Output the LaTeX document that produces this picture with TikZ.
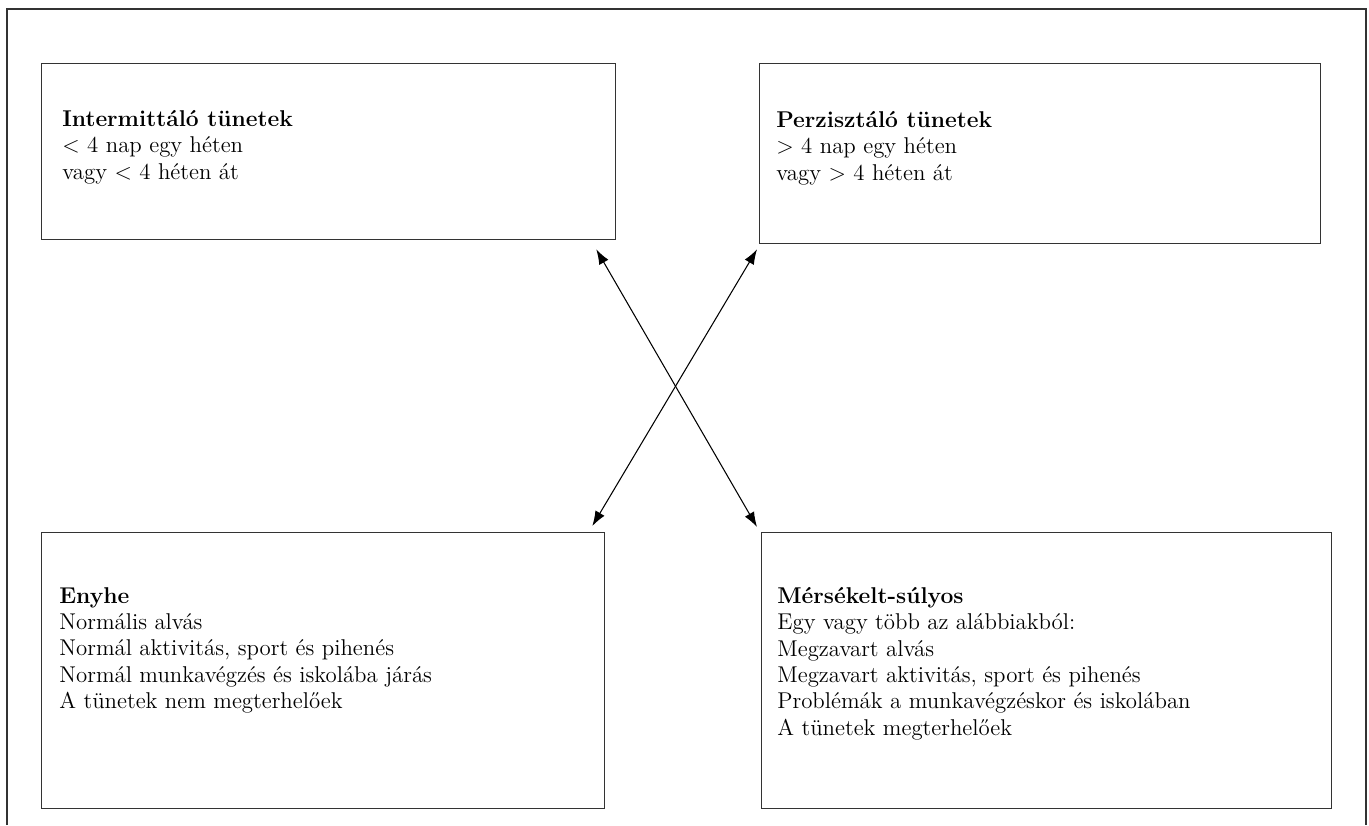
\documentclass[tikz,border=0pt]{standalone}
\usepackage{fontspec}
\usepackage{tikz}
\usetikzlibrary{arrows.meta, positioning}
\tikzset{
        kat box/.style={
		draw=black!80,
		line width=0.8pt,
		anchor=north west,
		inner sep=0pt,
	  },
  		kat text/.style={
    	anchor=north west,
		align=left,
		inner sep=0pt,
		font=\fontsize{13}{15}\selectfont,
		execute at begin node=\strut,
      },
		cross arrow/.style={
		{Latex[length=8.5pt,width=6pt]}-{Latex[length=8.5pt,width=6pt]},
		line width=0.6pt,
	  }
  	}

\begin{document}
\begin{tikzpicture}[x=0.02cm, y=-0.02cm]
    \useasboundingbox (0,0) rectangle (1369,825);
    % outer frame, open at the bottom
    \draw[black!80, line width=0.9pt] (7,825) -- (7,9) -- (1366,9) -- (1366,825);
    % the four boxes
    \node [kat box, minimum width=11.48cm, minimum height=3.52cm] (inter) at (41,63) {};
    \node [kat box, minimum width=11.22cm, minimum height=3.6cm] (perz) at (759,63) {};
    \node [kat box, minimum width=11.26cm, minimum height=5.52cm] (enyhe) at (41,532) {};
    \node [kat box, minimum width=11.4cm, minimum height=5.52cm] (mers) at (761,532) {};
    % texts
    \node [kat text] (inter text) at ([shift={(21,47)}]inter.north west)
      {\textbf{Intermittáló tünetek}\\< 4 nap egy héten\\vagy < 4 héten át};
    \node [kat text] (perz text) at ([shift={(17,48)}]perz.north west)
      {\textbf{Perzisztáló tünetek}\\> 4 nap egy héten\\vagy > 4 héten át};
    \node [kat text] (enyhe text) at ([shift={(18,55)}]enyhe.north west)
      {\textbf{Enyhe}\\Normális alvás\\Normál aktivitás, sport és pihenés\\Normál munkavégzés és iskolába járás\\A tünetek nem megterhelőek};
    \node [kat text] (mers text) at ([shift={(16,55)}]mers.north west)
      {\textbf{Mérsékelt-súlyos}\\Egy vagy több az alábbiakból:\\Megzavart alvás\\Megzavart aktivitás, sport és pihenés\\Problémák a munkavégzéskor és iskolában\\A tünetek megterhelőek};
    % crossing arrows
    \draw [cross arrow] ([shift={(-20,9)}]inter.south east) -- ([shift={(-4,-5)}]mers.north west);
    \draw [cross arrow] ([shift={(-2,5)}]perz.south west) -- ([shift={(-13,-6)}]enyhe.north east);
  \end{tikzpicture}
\end{document}
